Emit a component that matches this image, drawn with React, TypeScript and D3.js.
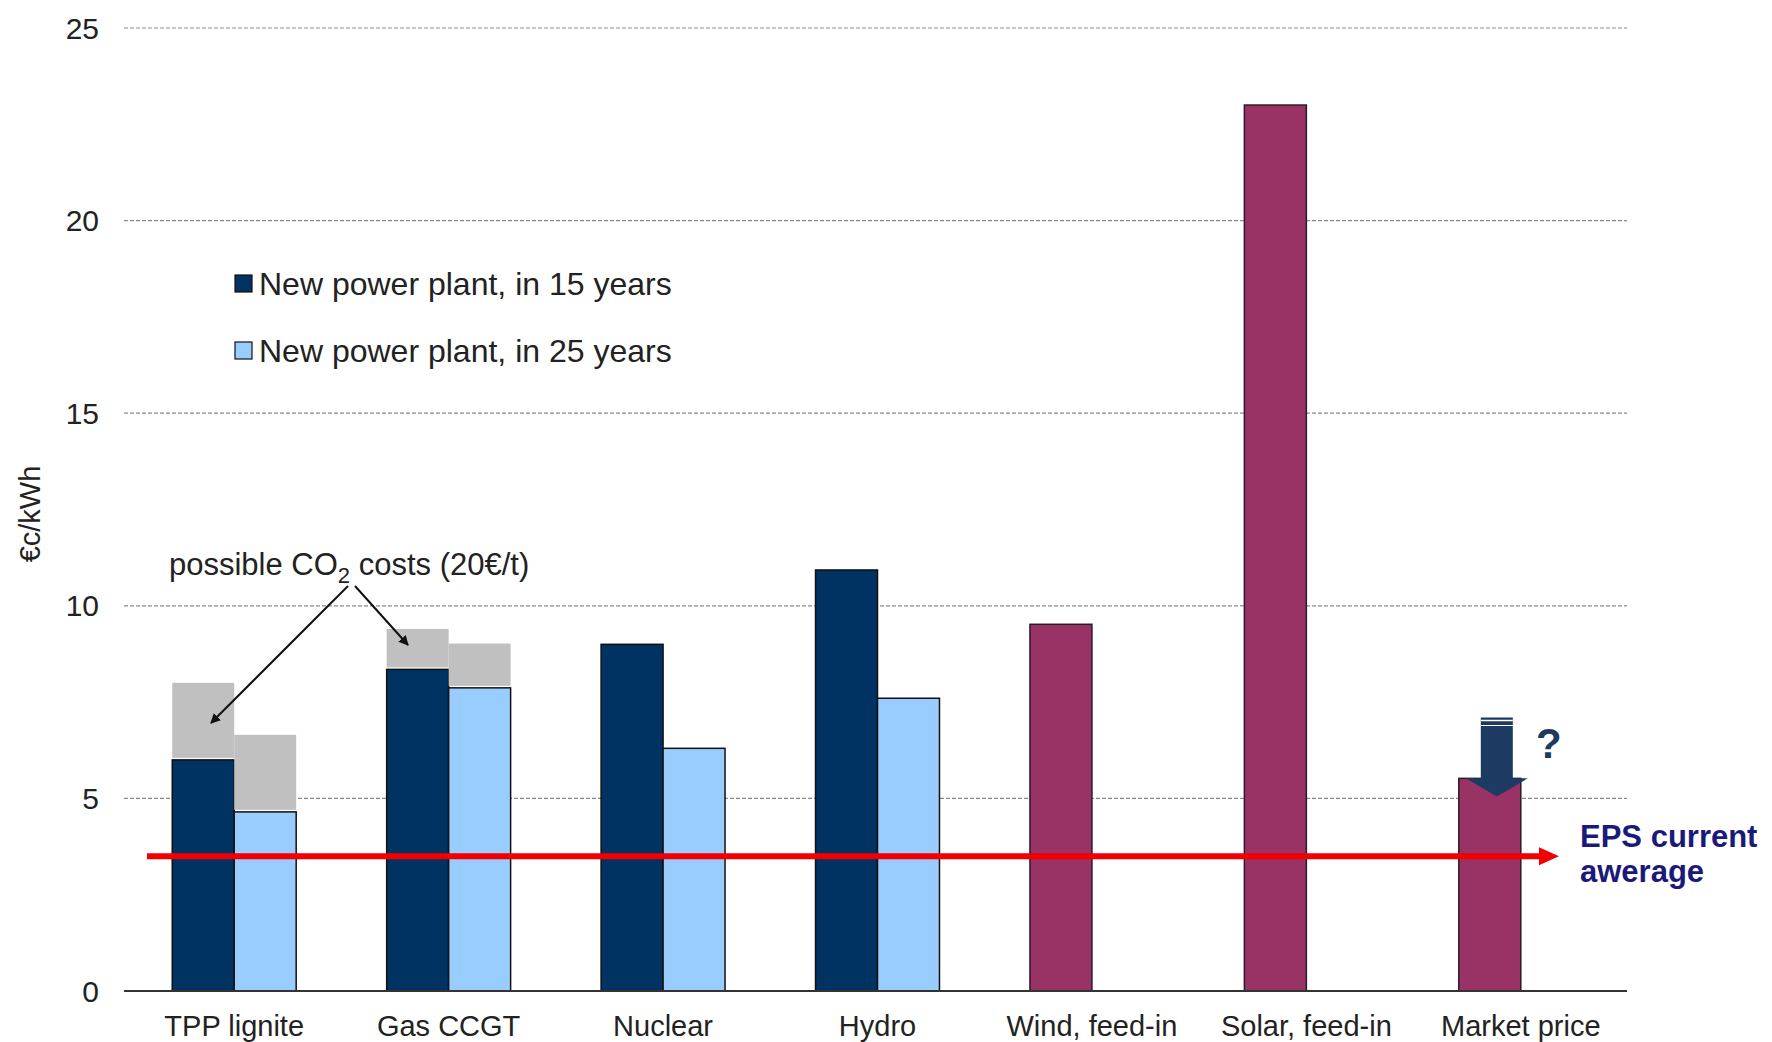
import React from "react";
import * as d3 from "d3";

const categories = ["TPP lignite", "Gas CCGT", "Nuclear", "Hydro", "Wind, feed-in", "Solar, feed-in", "Market price"];
const plant15: (number | null)[] = [6.0, 8.35, 9.0, 10.93, null, null, null];
const plant25: (number | null)[] = [4.65, 7.87, 6.3, 7.6, null, null, null];
const renewMarket: (number | null)[] = [null, null, null, null, 9.52, 23.0, 5.52];
const co2On15: number[] = [2.0, 1.05, 0, 0, 0, 0, 0];
const co2On25: number[] = [2.0, 1.15, 0, 0, 0, 0, 0];
const epsAverage = 3.5;
const yTicks = [0, 5, 10, 15, 20, 25];
const legendLabels = ["New power plant, in 15 years", "New power plant, in 25 years"];
const seriesKeys = ["s15", "s25"];

const W = 1772;
const H = 1042;
const FONT = "'Liberation Sans', Arial, sans-serif";
const C_DARK = "#003262";
const C_LIGHT = "#99ccff";
const C_MAROON = "#993366";
const C_GREY = "#c0c0c0";
const C_RED = "#f20000";
const C_NAVY = "#1a1a7a";

export default function App() {
  const x = d3.scaleBand<string>().domain(categories).range([127, 1628]).padding(0);
  const sub = d3.scaleBand<string>().domain(seriesKeys).range([0, x.bandwidth()]).paddingInner(0).paddingOuter(0.73);
  const y = d3.scaleLinear().domain([0, 25]).range([991, 28]);
  const bw = sub.bandwidth();

  const bars: React.ReactNode[] = [];
  categories.forEach((c, i) => {
    const x0 = x(c)!;
    const v15 = plant15[i];
    const v25 = plant25[i];
    const vm = renewMarket[i];
    if (v15 != null) {
      const bx = x0 + sub("s15")!;
      if (co2On15[i] > 0) {
        bars.push(<rect key={`g15${i}`} x={bx} y={y(v15 + co2On15[i])} width={bw} height={y(v15) - y(v15 + co2On15[i]) - 2} fill={C_GREY} />);
      }
      bars.push(<rect key={`b15${i}`} x={bx} y={y(v15)} width={bw} height={y(0) - y(v15)} fill={C_DARK} stroke="#111" strokeWidth={1.5} />);
    }
    if (v25 != null) {
      const bx = x0 + sub("s25")!;
      if (co2On25[i] > 0) {
        bars.push(<rect key={`g25${i}`} x={bx} y={y(v25 + co2On25[i])} width={bw} height={y(v25) - y(v25 + co2On25[i]) - 2} fill={C_GREY} />);
      }
      bars.push(<rect key={`b25${i}`} x={bx} y={y(v25)} width={bw} height={y(0) - y(v25)} fill={C_LIGHT} stroke="#111" strokeWidth={1.5} />);
    }
    if (vm != null) {
      const bx = x0 + sub("s15")!;
      bars.push(<rect key={`m${i}`} x={bx} y={y(vm)} width={bw} height={y(0) - y(vm)} fill={C_MAROON} stroke="#2a1a22" strokeWidth={1.5} />);
    }
  });

  // Market price down arrow
  const mi = categories.length - 1;
  const mCenter = x(categories[mi])! + sub("s15")! + bw / 2 + 7;
  const mTop = y(7.1);
  const mBase = y(renewMarket[mi]!);
  const mTip = y(5.05);
  const arrowPath = `M${mCenter - 16},${mTop} L${mCenter + 16},${mTop} L${mCenter + 16},${mBase} L${mCenter + 31},${mBase} L${mCenter},${mTip} L${mCenter - 31},${mBase} L${mCenter - 16},${mBase} Z`;

  const redY = y(epsAverage);

  return (
    <div style={{ position: "absolute", left: 0, top: 0 }}>
      <svg width={W} height={H} viewBox={`0 0 ${W} ${H}`} style={{ display: "block", background: "#fff" }}>
        <defs>
          <marker id="ah" viewBox="0 0 10 10" refX="9" refY="5" markerWidth="5" markerHeight="5" orient="auto-start-reverse" markerUnits="strokeWidth">
            <path d="M0,0 L10,5 L0,10 Z" fill="#111" />
          </marker>
        </defs>
        {/* gridlines */}
        {yTicks.filter((t) => t > 0).map((t) => (
          <line key={`gl${t}`} x1={124} x2={1627} y1={y(t)} y2={y(t)} stroke="#8a8a8a" strokeWidth={1.2} strokeDasharray="4,2" />
        ))}
        {/* y tick labels */}
        {yTicks.map((t) => (
          <text key={`yt${t}`} x={99} y={y(t)} dy="0.35em" textAnchor="end" fontFamily={FONT} fontSize={30} fill="#222">{t}</text>
        ))}
        {/* y axis title */}
        <text transform={`translate(40,514) rotate(-90)`} textAnchor="middle" fontFamily={FONT} fontSize={29} fill="#222">€c/kWh</text>

        {bars}

        {/* baseline */}
        <line x1={124} x2={1627} y1={y(0)} y2={y(0)} stroke="#333" strokeWidth={2} />

        {/* category labels */}
        {categories.map((c) => (
          <text key={`cl${c}`} x={x(c)! + x.bandwidth() / 2} y={1036} textAnchor="middle" fontFamily={FONT} fontSize={29} fill="#222">{c}</text>
        ))}

        {/* legend */}
        {legendLabels.map((l, i) => (
          <g key={`lg${i}`} transform={`translate(235,${284 + i * 67})`}>
            <rect x={0} y={-9} width={17} height={17} fill={i === 0 ? C_DARK : C_LIGHT} stroke="#111" strokeWidth={1.2} />
            <text x={24} y={0} dy="0.35em" fontFamily={FONT} fontSize={32} fill="#222">{l}</text>
          </g>
        ))}

        {/* CO2 annotation */}
        <text x={169} y={575} fontFamily={FONT} fontSize={31} fill="#222">
          possible CO<tspan dy={8} fontSize={22}>2</tspan><tspan dy={-8}> costs (20€/t)</tspan>
        </text>
        <line x1={348} y1={586} x2={211} y2={723} stroke="#111" strokeWidth={2} markerEnd="url(#ah)" />
        <line x1={355} y1={586} x2={408} y2={645} stroke="#111" strokeWidth={2} markerEnd="url(#ah)" />

        {/* red EPS line */}
        <line x1={147} x2={1541} y1={redY} y2={redY} stroke={C_RED} strokeWidth={6} />
        <path d={`M1539,${redY - 9} L1559,${redY} L1539,${redY + 9} Z`} fill={C_RED} />
        <text x={1580} y={847} fontFamily={FONT} fontSize={31} fontWeight="bold" fill={C_NAVY}>EPS current</text>
        <text x={1580} y={882} fontFamily={FONT} fontSize={31} fontWeight="bold" fill={C_NAVY}>awerage</text>

        {/* market price arrow */}
        <path d={arrowPath} fill="#1c3a62" />
        <line x1={mCenter - 16} x2={mCenter + 16} y1={mTop + 3} y2={mTop + 3} stroke="#fff" strokeWidth={1.5} />
        <line x1={mCenter - 16} x2={mCenter + 16} y1={mTop + 8} y2={mTop + 8} stroke="#fff" strokeWidth={1.2} />
        <text x={1536} y={758} fontFamily={FONT} fontSize={42} fontWeight="bold" fill="#1f3a60">?</text>
      </svg>
    </div>
  );
}
